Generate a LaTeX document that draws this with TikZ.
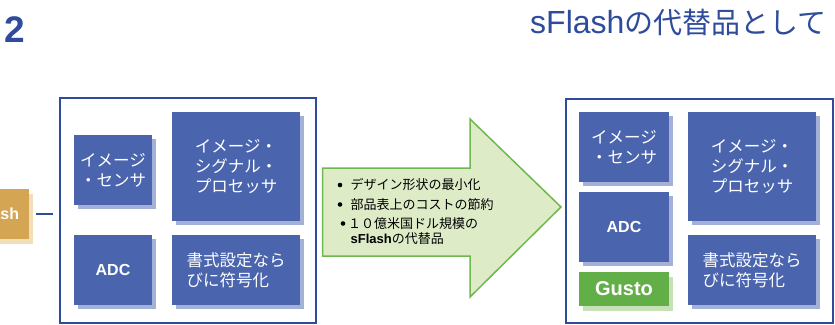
\documentclass[tikz,border=0pt]{standalone}
\usepackage{fontspec}
\setmainfont{Liberation Sans}
\newfontfamily\jp{Noto Sans CJK JP}
\usetikzlibrary{shadows}
\definecolor{panelblue}{HTML}{2E4C9B}
\definecolor{boxblue}{HTML}{4A65AE}
\definecolor{shadowblue}{HTML}{A4B1D7}
\definecolor{goldbox}{HTML}{D4A553}
\definecolor{goldshadow}{HTML}{F0DFB8}
\definecolor{gustogreen}{HTML}{63AF47}
\definecolor{gustoshadow}{HTML}{C8E0B8}
\definecolor{arrowfill}{HTML}{DDEBC7}
\definecolor{arrowdraw}{HTML}{70B84E}
\begin{document}
\begin{tikzpicture}[x=1pt,y=-1pt,
  panel/.style={draw=panelblue, line width=1.5pt, fill=white, inner sep=0pt},
  bluebox/.style={fill=boxblue, text=white, inner sep=0pt, align=center,
    drop shadow={shadow xshift=4pt, shadow yshift=-4pt, fill=shadowblue, opacity=1},
    font=\jp\fontsize{16.5}{20}\selectfont},
  latinbold/.style={font=\bfseries\fontsize{16}{19}\selectfont},
  bullettext/.style={anchor=west, inner sep=0pt, font=\jp\fontsize{13}{15}\selectfont},
  bulletdot/.style={circle, fill=black, inner sep=0pt, minimum size=4.6pt}
]
\path[use as bounding box, clip] (0,0) rectangle (835,324);

% headings
\node[anchor=base west, inner sep=0pt, text=panelblue, font=\bfseries\fontsize{37}{40}\selectfont] (num) at (4,42) {2};
\node[anchor=base west, inner sep=0pt, text=panelblue, font=\jp\fontsize{29}{32}\selectfont] (title) at (530,33.3) {{\rmfamily\fontsize{32}{32}\selectfont sFlash}の代替品として};

% sFlash box (cut off at the left edge)
\node[fill=goldbox, text=white, inner sep=0pt, minimum width=70.6pt, minimum height=50pt,
  drop shadow={shadow xshift=4pt, shadow yshift=-5pt, fill=goldshadow, opacity=1},
  font=\bfseries\fontsize{16}{19}\selectfont] (sflash) at (-6.3,214) {sFlash};

% left panel
\node[panel, minimum width=256pt, minimum height=225pt] (lpanel) at (188,210.5) {};
\node[bluebox, minimum width=78pt, minimum height=70pt] (ls) at (113,170) {イメージ\\・センサ};
\node[bluebox, minimum width=128pt, minimum height=109pt] (lisp) at (236,166.5) {イメージ・\\シグナル・\\プロセッサ};
\node[bluebox, latinbold, minimum width=78pt, minimum height=70pt] (ladc) at (113,270) {ADC};
\node[bluebox, align=left, minimum width=128pt, minimum height=70pt] (lfmt) at (236,270) {書式設定なら\\びに符号化};

\draw[panelblue, line width=1.5pt] ([xshift=7pt]sflash.east) -- ([xshift=24pt]sflash.east);

% arrow
\draw[fill=arrowfill, draw=arrowdraw, line width=1.5pt, line join=miter]
  (322.7,168) -- (470,168) -- (470,119) -- (561,207) -- (470,297) -- (470,256) -- (322.7,256) -- cycle;
\node[bulletdot] (b1) at (340,185) {};
\node[bullettext] (t1) at (350.5,185) {デザイン形状の最小化};
\node[bulletdot] (b2) at (340,204.5) {};
\node[bullettext] (t2) at (350.5,204.5) {部品表上のコストの節約};
\node[bulletdot] (b3) at (343,223.5) {};
\node[bullettext] (t3) at (348,223.5) {１０億米国ドル規模の};
\node[bullettext] (t4) at (350.5,239) {{\rmfamily\bfseries sFlash}の代替品};

% right panel
\node[panel, minimum width=267pt, minimum height=224pt] (rpanel) at (699.5,211) {};
\node[bluebox, minimum width=90pt, minimum height=70pt] (rs) at (624,147) {イメージ\\・センサ};
\node[bluebox, latinbold, minimum width=90pt, minimum height=70pt] (radc) at (624,227) {ADC};
\node[fill=gustogreen, text=white, inner sep=0pt, minimum width=90pt, minimum height=34pt,
  drop shadow={shadow xshift=4pt, shadow yshift=-5pt, fill=gustoshadow, opacity=1},
  font=\bfseries\fontsize{20}{24}\selectfont] (gusto) at (624,289) {Gusto};
\node[bluebox, minimum width=128pt, minimum height=109pt] (risp) at (752,166.5) {イメージ・\\シグナル・\\プロセッサ};
\node[bluebox, align=left, minimum width=128pt, minimum height=70pt] (rfmt) at (752,270) {書式設定なら\\びに符号化};
\end{tikzpicture}
\end{document}
